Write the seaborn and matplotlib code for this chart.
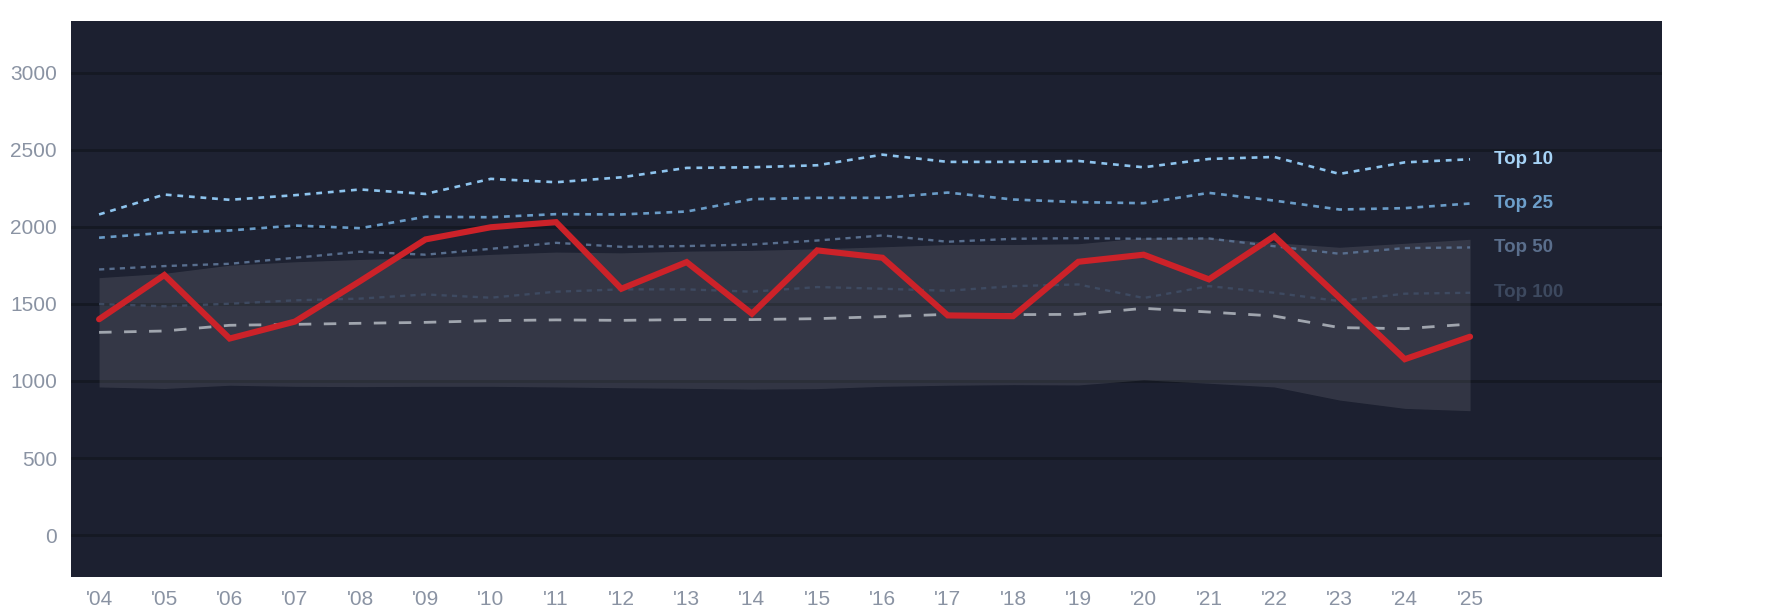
import matplotlib
matplotlib.use("Agg")
import matplotlib.pyplot as plt
import seaborn as sns
import pandas as pd
import numpy as np

years = list(range(2004, 2026))
tick_labels = ["'" + str(y)[2:] for y in years]

player = [1400, 1687, 1275, 1385, 1648, 1918, 1997, 2030, 1598, 1771, 1436, 1847,
          1799, 1425, 1420, 1773, 1819, 1659, 1939, 1540, 1141, 1287]
top10 = [2080, 2209, 2175, 2205, 2242, 2213, 2311, 2289, 2321, 2382, 2386, 2399,
         2468, 2421, 2421, 2427, 2386, 2440, 2453, 2343, 2418, 2438]
top25 = [1929, 1961, 1976, 2008, 1991, 2065, 2062, 2082, 2080, 2099, 2179, 2188,
         2188, 2222, 2177, 2160, 2153, 2220, 2170, 2112, 2121, 2151]
top50 = [1723, 1745, 1760, 1799, 1838, 1819, 1857, 1896, 1870, 1875, 1885, 1911,
         1944, 1903, 1922, 1926, 1922, 1924, 1874, 1825, 1862, 1866]
top100 = [1499, 1484, 1501, 1523, 1534, 1561, 1540, 1579, 1594, 1594, 1579, 1609,
          1598, 1585, 1615, 1626, 1538, 1615, 1572, 1518, 1566, 1572]
average = [1315, 1324, 1361, 1367, 1374, 1380, 1391, 1396, 1393, 1398, 1398, 1404,
           1417, 1432, 1430, 1432, 1471, 1447, 1421, 1346, 1339, 1369]
band_upper = [1670, 1698, 1751, 1773, 1788, 1799, 1821, 1836, 1831, 1842, 1847, 1857,
              1870, 1885, 1885, 1890, 1929, 1929, 1897, 1867, 1893, 1919]
band_lower = [961, 951, 972, 965, 963, 965, 965, 961, 956, 952, 947, 950,
              965, 972, 976, 974, 1007, 985, 961, 876, 822, 807]

tier_names = ["Top 10", "Top 25", "Top 50", "Top 100"]
tier_values = [top10, top25, top50, top100]
tier_colors = ["#8ec4ee", "#6a9cc8", "#586e8e", "#3e4a61"]
tier_text_colors = ["#a6d3f6", "#6d9fcb", "#5a6e8c", "#3d495f"]
tier_lw = [1.9, 1.9, 1.7, 1.7]

sns.set_theme(style="dark")
plt.rcParams['font.family'] = ['Liberation Sans', 'DejaVu Sans']

bg = "#1c2030"
fig = plt.figure(figsize=(17.85, 6.14), dpi=100, facecolor="white")
ax = fig.add_axes([71/1785, 1 - 576.7/614, (1662 - 71)/1785, (576.7 - 21)/614])
ax.set_facecolor(bg)

df = pd.DataFrame({"year": years, "player": player, "average": average,
                   "lower": band_lower, "upper": band_upper})
for n, v in zip(tier_names, tier_values):
    df[n] = v

# faint middle zone
ax.axhspan(1000, 2500, color="white", alpha=0.012, lw=0, zorder=0.5)

ax.fill_between(df["year"], df["lower"], df["upper"], color="white", alpha=0.098,
                lw=0, zorder=2)

for n, c, lw in zip(tier_names, tier_colors, tier_lw):
    sns.lineplot(data=df, x="year", y=n, ax=ax, color=c, lw=lw, zorder=3)
    ax.lines[-1].set_dashes((2.2, 2.2))

sns.lineplot(data=df, x="year", y="average", ax=ax, color="#a0a5ae", lw=2.0, zorder=3)
ax.lines[-1].set_dashes((4.5, 4.5))

sns.lineplot(data=df, x="year", y="player", ax=ax, color="#cc2229", lw=4.4, zorder=4)
ax.lines[-1].set_solid_joinstyle("miter")

for n, v, tc in zip(tier_names, tier_values, tier_text_colors):
    ax.text(years[-1] + 0.36, v[-1], n, color=tc, fontsize=13.5, fontweight="bold",
            ha="left", va="center", zorder=5)

ax.set_xlim(2003.57, 2027.94)
ax.set_ylim(-270, 3335)
ax.set_xticks(years)
ax.set_xticklabels(tick_labels)
ax.set_yticks(list(range(0, 3001, 500)))
ax.set_xlabel("")
ax.set_ylabel("")
ax.grid(True, axis="y", color="#151923", lw=2.0, zorder=1)
ax.grid(False, axis="x")
ax.set_axisbelow(True)
for s in ax.spines.values():
    s.set_visible(False)
ax.tick_params(axis="both", length=0, colors="#8a93a3", labelsize=15)
ax.tick_params(axis="x", pad=9.5)
ax.tick_params(axis="y", pad=10)

fig.savefig("out.png", dpi=100, facecolor="white")
